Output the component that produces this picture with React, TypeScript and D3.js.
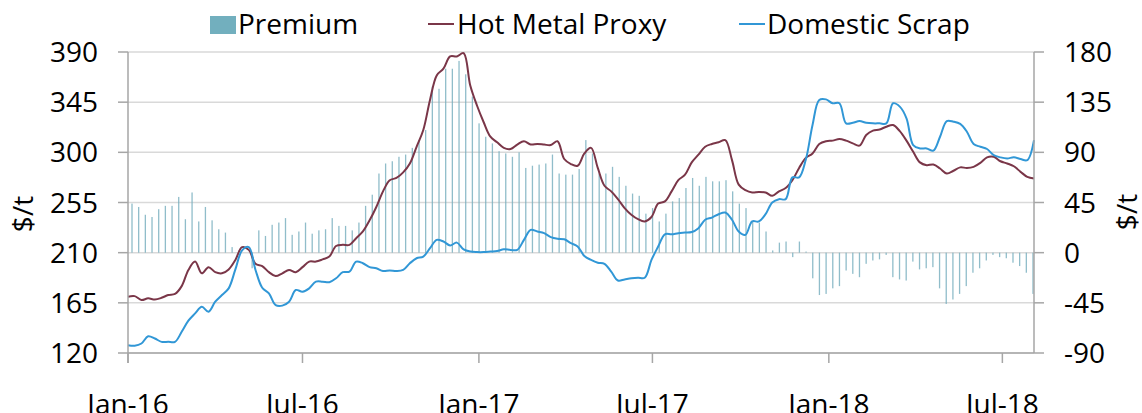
import React, { useEffect, useRef } from 'react';
import * as d3 from 'd3';

// weekly series, starting first week of Jan 2016
const hotMetal = [
  170.5, 171, 167.5, 169, 168, 169.5, 172, 173, 180, 194.5,
  202, 191.5, 197, 192.5, 191.5, 195, 203.5, 215, 212.5, 200,
  198, 192.5, 189, 191.5, 194.5, 192.5, 197, 202, 202, 204,
  206.5, 216, 217, 217, 223, 229, 239, 251, 265, 275,
  277, 282, 290, 305, 320, 347,
  369, 375, 386, 386, 389, 360, 342, 327, 314, 309,
  304, 303, 307, 310, 307, 307.5, 307, 306.5, 310, 294,
  289.5, 288, 299, 304, 286, 270, 265, 258, 250, 244,
  240, 238, 242, 254, 256, 265, 275, 280, 291, 298,
  305, 307.5, 309, 311, 293,
  271, 266, 264, 264.5, 264, 261, 265, 268, 275, 286,
  295, 299, 307.5, 310, 310.5, 312, 310.5, 308, 306, 315.5,
  319.5, 320.5, 323, 324.5, 319, 310.5, 300.5, 291, 288.5, 289,
  285.5, 281, 283.5, 286.5, 286, 287, 290.5, 295.5, 296, 292,
  290, 287.5, 282.5, 278, 276.5
];

const domesticScrap = [
  127, 126.5, 128.5, 135, 133, 130, 130, 130, 139, 149,
  155.5, 161.5, 157, 166, 172, 178, 195, 212, 215, 194.5,
  178.5, 173.5, 163, 162.5, 166, 176.5, 175, 178, 184, 184,
  183.5, 187, 192.5, 193, 202, 200.5, 197, 196, 193.5, 194,
  193.5, 194.5, 200.5, 205, 206.5, 214,
  221.5, 220, 216.5, 219, 213, 211, 210.5, 210.5, 211, 211.5,
  213, 212.5, 212.5, 221.5, 230.5, 229, 227.5, 224, 222.5, 222,
  218.5, 215.5, 207, 203.5, 201, 200, 193, 185, 186, 187,
  187.5, 187.5, 203.5, 215.5, 226.5, 226.5, 227.5, 228, 228.5, 232,
  239.5, 241.5, 244.5, 246, 239.5,
  229, 226, 238, 238, 244.5, 255, 258, 258, 277.5, 277.5,
  293.5, 324.5, 347, 347.5, 344, 344, 326, 326.5, 328, 326.5,
  326, 326, 326, 344, 341, 330.5, 306.5, 303.5, 303.5, 301.5,
  314, 328, 327.5, 325.5, 318.5, 307.5, 305, 303, 297.5, 295.5,
  294.5, 295.5, 294, 293, 311
];

const premium = [
  44, 41, 34, 32, 39, 42, 42, 50, 30, 54,
  28, 41, 29, 21, 18, 5, 2, 0, -14, 20,
  15, 25, 27, 31, 16, 19, 27, 17, 20, 21,
  31, 24, 24, 20, 27, 42, 52, 71, 80, 82,
  86, 88, 94, 101, 110,
  149, 147, 165, 165, 172, 160, 140, 116, 104, 98,
  91, 89, 86, 90, 76, 78, 79, 80, 88, 71,
  70, 70, 75, 101, 89, 71, 71, 77, 68, 60,
  53, 51, 35, 40, 28, 35, 46, 49, 58, 67,
  60, 68, 64, 64, 65,
  55, 44, 40, 28, 27, 19, 2, 9, 10, -4,
  10, 1, -23, -38, -37, -32, -30, -16, -19, -22,
  -10, -7, -6, -2, -22, -24, -25, -8, -15, -14,
  -13, -32, -46, -42, -37, -30, -18, -14, -7, -2,
  -4, -5, -9, -12, -18, -37
];

const leftTicks = [120, 165, 210, 255, 300, 345, 390];
const rightTicks = [-90, -45, 0, 45, 90, 135, 180];
const xTickDates = [
  new Date(2016, 0, 1), new Date(2016, 6, 1), new Date(2017, 0, 1),
  new Date(2017, 6, 1), new Date(2018, 0, 1), new Date(2018, 6, 1)
];
const xTickLabels = ['Jan-16', 'Jul-16', 'Jan-17', 'Jul-17', 'Jan-18', 'Jul-18'];

const FONT = '"Open Sans", sans-serif';

const App = () => {
  const svgRef = useRef<SVGSVGElement>(null);

  useEffect(() => {
    const svg = d3.select(svgRef.current);
    svg.selectAll('*').remove();

    const left = 128, right = 1034, top = 52, bottom = 353;
    const dates = hotMetal.map((_, i) => new Date(2016, 0, 1 + 7 * i));

    const x = d3.scaleTime()
      .domain([new Date(2016, 0, 1), new Date(2018, 7, 3)])
      .range([left, right]);
    const yL = d3.scaleLinear().domain([120, 390]).range([bottom, top]);
    const yR = d3.scaleLinear().domain([-90, 180]).range([bottom, top]);

    // gridlines
    svg.append('g')
      .selectAll('line')
      .data(leftTicks)
      .enter()
      .append('line')
      .attr('x1', left)
      .attr('x2', right)
      .attr('y1', (d) => yL(d))
      .attr('y2', (d) => yL(d))
      .attr('stroke', '#d9d9d9')
      .attr('stroke-width', 1.5);

    // premium bars (weekly, squeezed slightly so first/last sit inside the axes)
    const xb = d3.scaleLinear().domain([0, premium.length - 1]).range([x(dates[0]) + 4, x(dates[dates.length - 1]) - 1]);
    svg.append('g')
      .selectAll('rect')
      .data(premium)
      .enter()
      .append('rect')
      .attr('x', (d, i) => xb(i) - 0.65)
      .attr('width', 1.3)
      .attr('y', (d) => Math.min(yR(d), yR(0)))
      .attr('height', (d) => Math.abs(yR(d) - yR(0)))
      .attr('fill', '#74adbd')
      .attr('opacity', 0.8);

    const line = (vals: number[]) =>
      d3.line<number>()
        .x((d, i) => x(dates[i]))
        .y((d) => yL(d))
        .curve(d3.curveCatmullRom.alpha(0.5))(vals);

    svg.append('path')
      .attr('d', line(hotMetal))
      .attr('fill', 'none')
      .attr('stroke', '#7a3648')
      .attr('stroke-width', 2);

    svg.append('path')
      .attr('d', line(domesticScrap))
      .attr('fill', 'none')
      .attr('stroke', '#3197d6')
      .attr('stroke-width', 2);

    // axes lines
    const axisColor = '#a6a6a6';
    svg.append('line').attr('x1', left).attr('x2', left).attr('y1', top).attr('y2', bottom + 10)
      .attr('stroke', axisColor).attr('stroke-width', 1.5);
    svg.append('line').attr('x1', right).attr('x2', right).attr('y1', top).attr('y2', bottom)
      .attr('stroke', axisColor).attr('stroke-width', 1.5);
    svg.append('line').attr('x1', left).attr('x2', right).attr('y1', bottom).attr('y2', bottom)
      .attr('stroke', axisColor).attr('stroke-width', 1.5);

    // left ticks
    const lt = svg.append('g');
    lt.selectAll('line').data(leftTicks).enter().append('line')
      .attr('x1', left - 10).attr('x2', left)
      .attr('y1', (d) => yL(d)).attr('y2', (d) => yL(d))
      .attr('stroke', axisColor).attr('stroke-width', 1.5);
    lt.selectAll('text').data(leftTicks).enter().append('text')
      .attr('x', 98)
      .attr('y', (d) => yL(d) + 10)
      .attr('text-anchor', 'end')
      .style('font-family', FONT)
      .style('font-size', '28px')
      .attr('fill', '#000')
      .text((d) => d);

    // right ticks
    const rt = svg.append('g');
    rt.selectAll('line').data(rightTicks).enter().append('line')
      .attr('x1', right).attr('x2', right + 10)
      .attr('y1', (d) => yR(d)).attr('y2', (d) => yR(d))
      .attr('stroke', axisColor).attr('stroke-width', 1.5);
    rt.selectAll('text').data(rightTicks).enter().append('text')
      .attr('x', 1064)
      .attr('y', (d) => yR(d) + 10)
      .attr('text-anchor', 'start')
      .style('font-family', FONT)
      .style('font-size', '28px')
      .attr('fill', '#000')
      .text((d) => d);

    // x ticks
    const xt = svg.append('g');
    xt.selectAll('line').data(xTickDates).enter().append('line')
      .attr('x1', (d) => x(d)).attr('x2', (d) => x(d))
      .attr('y1', bottom).attr('y2', bottom + 10)
      .attr('stroke', axisColor).attr('stroke-width', 1.5);
    xt.selectAll('text').data(xTickDates).enter().append('text')
      .attr('x', (d) => x(d))
      .attr('y', 414)
      .attr('text-anchor', 'middle')
      .style('font-family', FONT)
      .style('font-size', '28px')
      .attr('fill', '#000')
      .text((d, i) => xTickLabels[i]);

    // axis titles
    svg.append('text')
      .attr('transform', 'translate(33,214) rotate(-90)')
      .attr('text-anchor', 'middle')
      .style('font-family', FONT)
      .style('font-size', '28px')
      .text('$/t');
    svg.append('text')
      .attr('transform', 'translate(1137,212) rotate(-90)')
      .attr('text-anchor', 'middle')
      .style('font-family', FONT)
      .style('font-size', '28px')
      .text('$/t');

    // legend
    const lg = svg.append('g').style('font-family', FONT).style('font-size', '28px');
    lg.append('rect').attr('x', 210).attr('y', 16).attr('width', 26).attr('height', 18).attr('fill', '#72afbe');
    lg.append('text').attr('x', 238).attr('y', 34).text('Premium');
    lg.append('line').attr('x1', 428).attr('x2', 454).attr('y1', 24).attr('y2', 24)
      .attr('stroke', '#7a3648').attr('stroke-width', 2);
    lg.append('text').attr('x', 457).attr('y', 34).text('Hot Metal Proxy');
    lg.append('line').attr('x1', 739).attr('x2', 765).attr('y1', 24).attr('y2', 24)
      .attr('stroke', '#3197d6').attr('stroke-width', 2);
    lg.append('text').attr('x', 767).attr('y', 34).text('Domestic Scrap');
  }, []);

  return (
    <svg
      ref={svgRef}
      width={1142}
      height={413}
      style={{ position: 'absolute', left: 0, top: 0, background: '#fff' }}
    />
  );
};

export default App;
